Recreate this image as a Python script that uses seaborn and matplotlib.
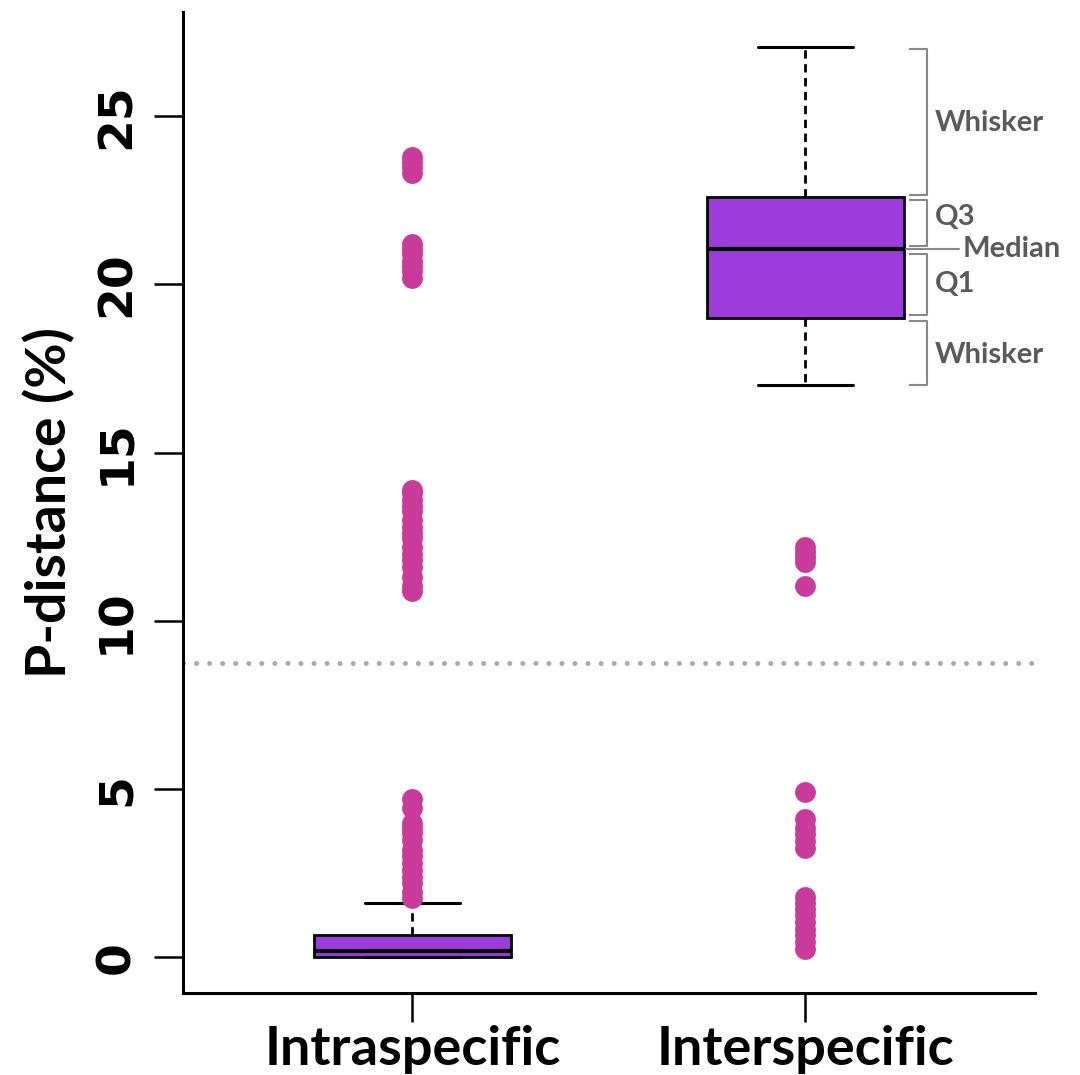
import matplotlib
matplotlib.use("Agg")
import matplotlib.pyplot as plt
import seaborn as sns
import pandas as pd

categories = ["Intraspecific", "Interspecific"]

# box statistics (P-distance, %)
whisker_low = [0.0, 17.0]
q1 = [0.02, 19.0]
median = [0.18, 21.05]
q3 = [0.65, 22.6]
whisker_high = [1.6, 27.05]

# outliers, read from the point columns
intra_outliers = [23.3, 23.5, 23.65, 23.8,
                  20.2, 20.4, 20.55, 20.7, 20.9, 21.05, 21.2,
                  10.9, 11.05, 11.3, 11.6, 11.8, 12.0, 12.2, 12.45, 12.6, 12.8,
                  13.0, 13.25, 13.4, 13.6, 13.8, 13.9,
                  1.75, 1.95, 2.2, 2.4, 2.6, 2.8, 3.0, 3.2, 3.5, 3.7, 3.85, 4.0,
                  4.45, 4.7]
inter_outliers = [11.05, 11.75, 11.9, 12.05, 12.2,
                  0.25, 0.45, 0.65, 0.85, 1.05, 1.25, 1.45, 1.6, 1.8,
                  3.25, 3.45, 3.65, 3.85, 4.1,
                  4.9]

threshold = 8.75
yticks = [0, 5, 10, 15, 20, 25]

# bracket annotations for the Interspecific box: (label, top, bottom, text y)
brackets = [("Whisker", 27.0, 22.65, 24.8),
            ("Q3", 22.5, 21.15, 22.0),
            ("Q1", 20.9, 19.1, 20.0),
            ("Whisker", 18.9, 17.0, 17.9)]

sns.set_theme(style="ticks")
plt.rcParams['font.family'] = ['Lato', 'DejaVu Sans']
plt.rcParams.update({"text.color": "black", "axes.labelcolor": "black",
                     "xtick.color": "black", "ytick.color": "black"})

fig, ax = plt.subplots(figsize=(10.8, 10.75), dpi=100)
fig.subplots_adjust(left=0.169, right=0.958, bottom=0.076, top=0.989)

outliers = pd.DataFrame({
    "group": [categories[0]] * len(intra_outliers) + [categories[1]] * len(inter_outliers),
    "pdist": intra_outliers + inter_outliers,
})
sns.stripplot(data=outliers, x="group", y="pdist", order=categories, jitter=False,
              size=15, color="#C93A9B", linewidth=0, ax=ax, zorder=3)

stats = [dict(whislo=whisker_low[i], q1=q1[i], med=median[i], q3=q3[i],
              whishi=whisker_high[i], fliers=[]) for i in range(len(categories))]
ax.bxp(stats, positions=[0, 1], widths=0.5, capwidths=0.24, patch_artist=True,
       showfliers=False, manage_ticks=False,
       boxprops=dict(facecolor="#9B3CDB", edgecolor="black", linewidth=2),
       medianprops=dict(color="black", linewidth=3),
       whiskerprops=dict(color="black", linewidth=2, linestyle=(0, (3, 2))),
       capprops=dict(color="black", linewidth=2.2))

ax.axhline(threshold, color="#AAAAAA", linewidth=3.6, linestyle=(0, (0.01, 2.6)),
           dash_capstyle="round", zorder=1)

# annotation brackets
gray = "#888888"
for label, top, bot, ty in brackets:
    ax.plot([1.264, 1.31, 1.31, 1.264], [top, top, bot, bot], color=gray, lw=1.5,
            clip_on=False, solid_capstyle="butt")
    ax.text(1.328, ty, label, color="#5A5A5A", fontsize=21, fontweight="bold",
            va="center", ha="left", clip_on=False)
ax.plot([1.255, 1.39], [median[1], median[1]], color=gray, lw=1.5, clip_on=False)
ax.text(1.40, median[1], "Median", color="#5A5A5A", fontsize=21, fontweight="bold",
        va="center", ha="left", clip_on=False)

ax.set_xlim(-0.585, 1.583)
ax.set_ylim(-1.07, 28.1)
ax.set_xlabel("")
ax.set_yticks(yticks)
ax.set_yticklabels([str(t) for t in yticks], rotation=90, va="center",
                   fontsize=34, fontweight="bold",
                   family=["Liberation Sans Narrow", "DejaVu Sans"])
ax.set_xticks([0, 1])
ax.set_xticklabels(categories, fontsize=39, fontweight="bold")
ax.set_ylabel("P-distance (%)", fontsize=40, fontweight="bold", labelpad=14)

sns.despine(ax=ax)
for s in ["left", "bottom"]:
    ax.spines[s].set_linewidth(2.2)
    ax.spines[s].set_color("black")
ax.tick_params(axis="both", length=21, width=1.8, color="black", direction="out")
ax.tick_params(axis="y", pad=10)
ax.tick_params(axis="x", pad=2)

fig.savefig("out.png", dpi=100)
